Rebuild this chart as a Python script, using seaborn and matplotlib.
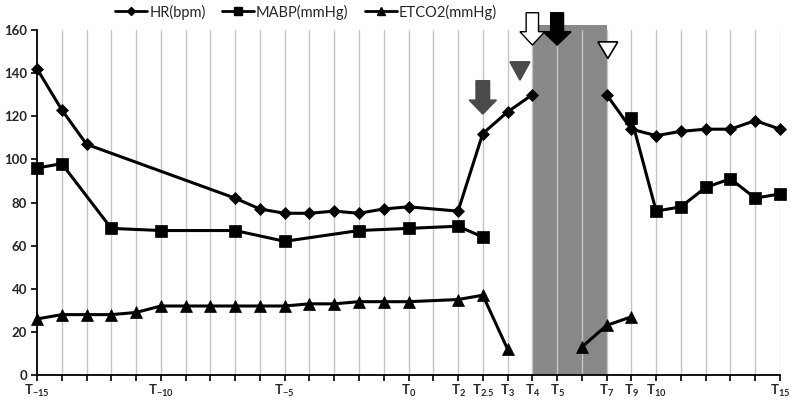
import numpy as np
import pandas as pd
import matplotlib
matplotlib.use("Agg")
import matplotlib.pyplot as plt
from matplotlib.lines import Line2D
from matplotlib.patches import FancyArrow, Polygon
import seaborn as sns

# ---------------- data ----------------
N = None
time_index = list(range(31))
hr = [142, 123, 107, N, N, N, N, N, 82, 77, 75, 75, 76, 75, 77, 78, N, 76,
      112, 122, 130, N, N, 130, 114, 111, 113, 114, 114, 118, 114]
mabp = [96, 98, N, 68, N, 67, N, N, 67, N, 62, N, N, 67, N, 68, N, 69,
        64, N, N, N, N, N, 119, 76, 78, 87, 91, 82, 84]
etco2 = [26, 28, 28, 28, 29, 32, 32, 32, 32, 32, 32, 33, 33, 34, 34, 34, N, 35,
         37, 12, N, N, 13, 23, 27, N, N, N, N, N, N]
tick_labels = {0: "-15", 5: "-10", 10: "-5", 15: "0", 17: "2", 18: "2.5", 19: "3",
               20: "4", 21: "5", 23: "7", 24: "9", 25: "10", 30: "15"}
series_names = ["HR(bpm)", "MABP(mmHg)", "ETCO2(mmHg)"]
shade_start, shade_end = 20, 23
split_at = 21  # lines break across the shaded interval

rows = []
for name, vals in zip(series_names, [hr, mabp, etco2]):
    for i, v in zip(time_index, vals):
        if v is not None:
            rows.append({"series": name, "t": i, "value": v,
                         "phase": "pre" if i < split_at else "post"})
df = pd.DataFrame(rows)

# ---------------- style ----------------
sns.set_theme(style="white")
plt.rcParams["font.family"] = ["Lato", "DejaVu Sans"]
plt.rcParams["mathtext.fontset"] = "custom"
plt.rcParams["mathtext.rm"] = "Lato"
plt.rcParams["mathtext.bf"] = "Lato:bold"

fig = plt.figure(figsize=(7.93, 4.0), dpi=100)
ax = fig.add_axes([37 / 793, 1 - 375 / 400, (780 - 37) / 793, (375 - 30) / 400])

markers = {"HR(bpm)": ("D", 6.5), "MABP(mmHg)": ("s", 8), "ETCO2(mmHg)": ("^", 9)}

for name in series_names:
    for ph in ["pre", "post"]:
        sub = df[(df.series == name) & (df.phase == ph)]
        if len(sub) == 0:
            continue
        m, ms = markers[name]
        sns.lineplot(data=sub, x="t", y="value", ax=ax, color="black", lw=2.2,
                     marker=m, markersize=ms, mfc="black", mec="black", mew=0.5,
                     legend=False, zorder=3, clip_on=False)

# shaded interval
ax.add_patch(plt.Rectangle((shade_start, 0), shade_end - shade_start, 162.3,
                           facecolor="#888888", edgecolor="none", zorder=0.4,
                           clip_on=False))

# grid
for x in time_index[1:]:
    ax.axvline(x, color="#c4c4c4", lw=1.0, zorder=0.5)

ax.set_xlim(0, 30)
ax.set_ylim(0, 160)
ax.set_yticks(range(0, 161, 20))
ax.set_xticks(time_index)
ax.set_xticklabels([r"$\mathbf{T_{%s}}$" % tick_labels[i] if i in tick_labels else ""
                    for i in time_index])
ax.set_xlabel("")
ax.set_ylabel("")
for s in ["top", "right"]:
    ax.spines[s].set_visible(False)
for s in ["left", "bottom"]:
    ax.spines[s].set_color("black")
    ax.spines[s].set_linewidth(1.3)
ax.tick_params(axis="x", direction="out", length=4, width=1.2, color="black",
               labelsize=9.5, pad=2, bottom=True)
ax.tick_params(axis="y", direction="out", length=4, width=1.2, color="black",
               labelsize=9.5, pad=3, left=True)
for lab in ax.get_yticklabels():
    lab.set_fontweight("bold")

# annotations (arrows / triangles)
def block_arrow(x, ytop, ytip, shaft_w, head_w, head_len, fc, ec):
    ar = FancyArrow(x, ytop, 0, ytip - ytop, width=shaft_w, head_width=head_w,
                    head_length=head_len, length_includes_head=True,
                    fc=fc, ec=ec, lw=1.0, zorder=5, clip_on=False)
    ax.add_patch(ar)

def down_tri(x, ytop, ybot, w, fc, ec):
    tri = Polygon([[x - w / 2, ytop], [x + w / 2, ytop], [x, ybot]], closed=True,
                  fc=fc, ec=ec, lw=1.2, zorder=5, clip_on=False)
    ax.add_patch(tri)

block_arrow(18, 136.5, 121, 0.55, 1.1, 6.5, "#4a4a4a", "#4a4a4a")
down_tri(19.5, 145.2, 136.8, 0.8, "#4a4a4a", "#4a4a4a")
block_arrow(20, 168, 153, 0.5, 1.0, 6.2, "white", "black")
block_arrow(21, 168, 153, 0.52, 1.13, 6.2, "black", "black")
down_tri(23.05, 154.5, 146.8, 0.8, "white", "black")

# legend
handles = [Line2D([], [], color="black", lw=2, marker=markers[n][0],
                  markersize=markers[n][1] * 0.7, mfc="black", mec="black")
           for n in series_names]
fig.legend(handles, series_names, loc="center left", bbox_to_anchor=(115 / 793, 1 - 12 / 400),
           ncol=3, frameon=False, fontsize=10.5, handlelength=2.2, handletextpad=0.15,
           columnspacing=1.1, borderaxespad=0, borderpad=0)

fig.savefig("out.png", dpi=100)
